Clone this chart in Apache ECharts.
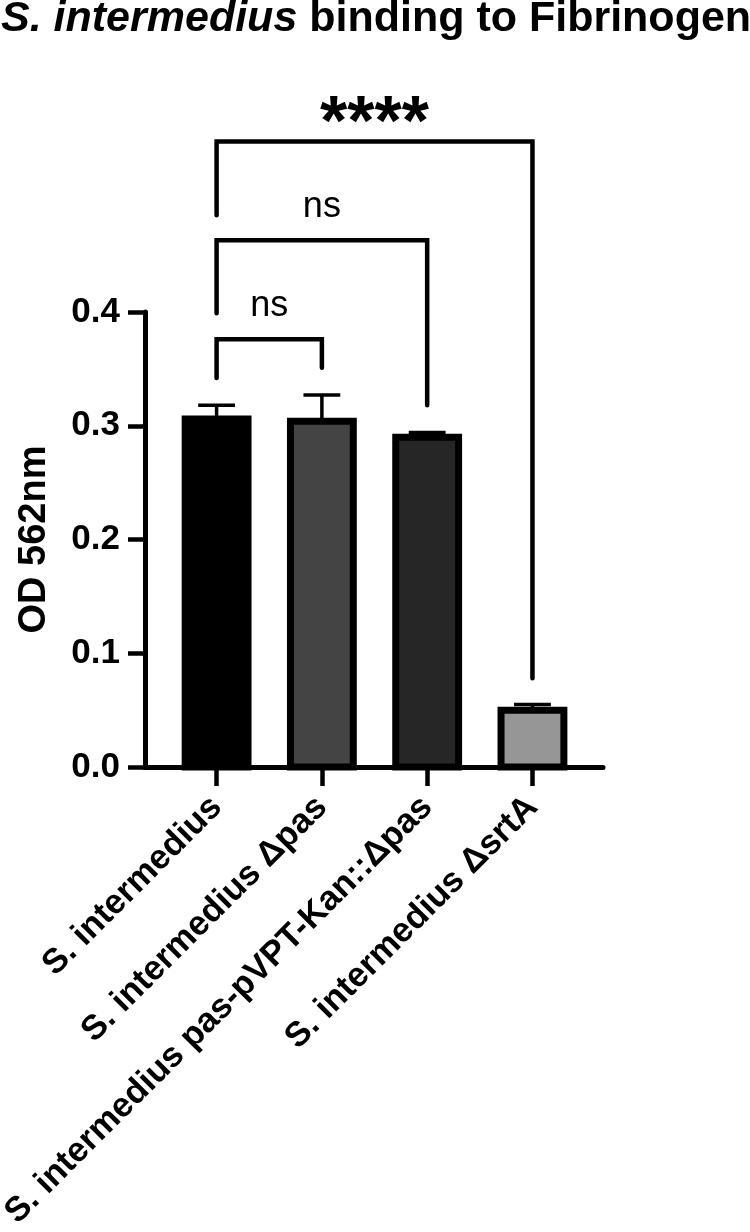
<!DOCTYPE html>
<html>
<head>
<meta charset="utf-8">
<script src="https://cdn.jsdelivr.net/npm/echarts@6/dist/echarts.min.js"></script>
<style>
html,body{margin:0;padding:0;background:#fff;}
#chart{width:750px;height:1232px;}
</style>
</head>
<body>
<div id="chart"></div>
<script>
// ---- data ----
const categories = ['S. intermedius', 'S. intermedius Δpas', 'S. intermedius pas-pVPT-Kan::Δpas', 'S. intermedius ΔsrtA'];
const means = [0.306, 0.304, 0.290, 0.050];
const errUpper = [0.318, 0.327, 0.294, 0.055];
const barColors = ['#000000', '#444444', '#262626', '#969696'];
const yTickValues = [0, 0.1, 0.2, 0.3, 0.4];
const bracketFrom = [0, 0, 0];
const bracketTo = [3, 2, 1];
const bracketLevel = [0.550, 0.463, 0.376];
const bracketLeftEnd = [0.485, 0.399, 0.342];
const bracketRightEnd = [0.078, 0.318, 0.351];
const bracketLabels = ['****', 'ns', 'ns'];

const FONT = '"Liberation Sans", Arial, Helvetica, sans-serif';
const chart = echarts.init(document.getElementById('chart'));

const barData = categories.map((c, i) => [i, means[i], errUpper[i]]);
const bracketData = bracketLabels.map((l, i) => [bracketFrom[i], bracketTo[i], bracketLevel[i], bracketLeftEnd[i], bracketRightEnd[i]]);

chart.setOption({
  animation: false,
  backgroundColor: '#ffffff',
  title: {
    text: '{i|S. intermedius} binding to Fibrinogen',
    left: 1,
    top: -2,
    padding: 0,
    textStyle: {
      fontSize: 43, fontWeight: 'bold', fontFamily: FONT, color: '#000',
      rich: { i: { fontSize: 43, fontWeight: 'bold', fontStyle: 'italic', fontFamily: FONT, color: '#000' } }
    }
  },
  grid: { left: 145, right: 147, top: 312, bottom: 465, containLabel: false, outerBoundsMode: 'none' },
  xAxis: {
    type: 'value',
    min: -0.68, max: 3.67,
    axisLine: { onZero: false, lineStyle: { color: '#000', width: 5 } },
    axisTick: { show: true, customValues: [0, 1, 2, 3], length: 19, lineStyle: { color: '#000', width: 4.5 } },
    axisLabel: {
      customValues: [0, 1, 2, 3],
      rotate: 45, margin: 35,
      formatter: v => categories[Math.round(v)],
      fontSize: 34.5, fontWeight: 'bold', fontFamily: FONT, color: '#000'
    },
    splitLine: { show: false }
  },
  yAxis: {
    type: 'value',
    min: 0, max: 0.4, interval: 0.1,
    name: 'OD 562nm',
    nameLocation: 'middle',
    nameGap: 91,
    nameTextStyle: { fontSize: 38, fontWeight: 'bold', fontFamily: FONT, color: '#000' },
    axisLine: { show: true, onZero: false, lineStyle: { color: '#000', width: 5 } },
    axisTick: { show: true, length: 17, lineStyle: { color: '#000', width: 4.5 } },
    axisLabel: {
      margin: 25,
      formatter: v => v.toFixed(1),
      fontSize: 35, fontWeight: 'bold', fontFamily: FONT, color: '#000'
    },
    splitLine: { show: false }
  },
  series: [
    {
      type: 'custom',
      clip: false,
      encode: { x: 0, y: 1 },
      data: barData,
      z: 3,
      renderItem: function (params, api) {
        const i = params.dataIndex;
        const x = api.value(0), y = api.value(1), up = api.value(2);
        const top = api.coord([x, y]);
        const base = api.coord([x, 0]);
        const errTop = api.coord([x, up]);
        const unit = api.size([1, 0])[0];
        const w = unit * 0.597;
        const cap = unit * 0.35;
        return {
          type: 'group',
          children: [
            { type: 'line', shape: { x1: top[0], y1: top[1], x2: errTop[0], y2: errTop[1] }, style: { stroke: '#000', lineWidth: 3.5 } },
            { type: 'line', shape: { x1: errTop[0] - cap / 2, y1: errTop[1], x2: errTop[0] + cap / 2, y2: errTop[1] }, style: { stroke: '#000', lineWidth: 3.5 } },
            { type: 'rect', shape: { x: top[0] - w / 2, y: top[1], width: w, height: base[1] - top[1] }, style: { fill: barColors[i], stroke: '#000', lineWidth: 7 } }
          ]
        };
      }
    },
    {
      type: 'custom',
      clip: false,
      encode: { x: 0, y: 2 },
      data: bracketData,
      z: 4,
      renderItem: function (params, api) {
        const i = params.dataIndex;
        const a = api.value(0), b = api.value(1), lvl = api.value(2), le = api.value(3), re = api.value(4);
        const p1 = api.coord([a, le]);
        const p2 = api.coord([a, lvl]);
        const p3 = api.coord([b, lvl]);
        const p4 = api.coord([b, re]);
        const label = bracketLabels[i];
        const star = label.indexOf('*') >= 0;
        return {
          type: 'group',
          children: [
            { type: 'polyline', shape: { points: [p1, p2, p3, p4] }, style: { stroke: '#000', lineWidth: 4.5, fill: null, lineCap: 'round', lineJoin: 'miter' } },
            {
              type: 'text',
              x: (p2[0] + p3[0]) / 2,
              y: star ? p2[1] - 16 : p2[1] - 15,
              style: {
                text: label,
                align: 'center',
                verticalAlign: star ? 'middle' : 'bottom',
                fontSize: star ? 70 : 36,
                fontWeight: star ? 'bold' : 'normal',
                fontFamily: FONT,
                fill: '#000'
              }
            }
          ]
        };
      }
    }
  ]
});
</script>
</body>
</html>
